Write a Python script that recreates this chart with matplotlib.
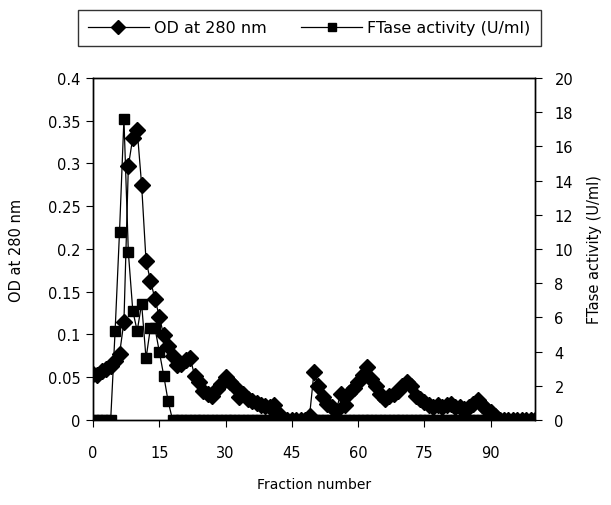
import numpy as np
import matplotlib.pyplot as plt

# fraction numbers 0..100
fractions = list(range(0, 101))

od_280 = [
    0.054, 0.053, 0.057, 0.060, 0.063, 0.069, 0.077, 0.115, 0.297, 0.330,
    0.339, 0.275, 0.186, 0.163, 0.142, 0.121, 0.099, 0.087, 0.075, 0.064,
    0.066, 0.070, 0.072, 0.052, 0.045, 0.034, 0.030, 0.028, 0.036, 0.042,
    0.050, 0.045, 0.040, 0.027, 0.030, 0.025, 0.022, 0.020, 0.017, 0.016,
    0.015, 0.017, 0.007, 0.000, 0.000, 0.000, 0.000, 0.000, 0.000, 0.005,
    0.056, 0.040, 0.027, 0.019, 0.015, 0.011, 0.030, 0.017, 0.032, 0.038,
    0.044, 0.053, 0.062, 0.048, 0.040, 0.030, 0.025, 0.028, 0.030, 0.034,
    0.040, 0.044, 0.040, 0.028, 0.025, 0.021, 0.017, 0.015, 0.017, 0.015,
    0.017, 0.019, 0.015, 0.015, 0.013, 0.015, 0.019, 0.023, 0.017, 0.013,
    0.009, 0.005, 0.000, 0.000, 0.000, 0.000, 0.000, 0.000, 0.000, 0.000,
    0.000,
]

ftase = [
    0.0, 0.0, 0.0, 0.0, 0.0, 5.2, 11.0, 17.6, 9.8, 6.4,
    5.2, 6.8, 3.6, 5.4, 5.4, 4.0, 2.6, 1.1, 0.0, 0.0,
    0.0, 0.0, 0.0, 0.0, 0.0, 0.0, 0.0, 0.0, 0.0, 0.0,
    0.0, 0.0, 0.0, 0.0, 0.0, 0.0, 0.0, 0.0, 0.0, 0.0,
    0.0, 0.0, 0.0, 0.0, 0.0, 0.0, 0.0, 0.0, 0.0, 0.0,
    0.0, 0.0, 0.0, 0.0, 0.0, 0.0, 0.0, 0.0, 0.0, 0.0,
    0.0, 0.0, 0.0, 0.0, 0.0, 0.0, 0.0, 0.0, 0.0, 0.0,
    0.0, 0.0, 0.0, 0.0, 0.0, 0.0, 0.0, 0.0, 0.0, 0.0,
    0.0, 0.0, 0.0, 0.0, 0.0, 0.0, 0.0, 0.0, 0.0, 0.0,
    0.0, 0.0, 0.0, 0.0, 0.0, 0.0, 0.0, 0.0, 0.0, 0.0,
    0.0,
]

x_ticks = [0, 15, 30, 45, 60, 75, 90]
od_ticks = [0, 0.05, 0.1, 0.15, 0.2, 0.25, 0.3, 0.35, 0.4]
od_labels = ['0', '0.05', '0.1', '0.15', '0.2', '0.25', '0.3', '0.35', '0.4']
ft_ticks = [0, 2, 4, 6, 8, 10, 12, 14, 16, 18, 20]

plt.rcParams['font.family'] = ['DejaVu Sans']
fs = 10.5

fig = plt.figure(figsize=(6.11, 5.06), dpi=100)
ax = fig.add_axes([0.1522, 0.168, 0.7234, 0.6759])
ax2 = ax.twinx()

l1, = ax.plot(fractions, od_280, color='black', lw=0.9, marker='D', ms=8,
              label='OD at 280 nm')
l2, = ax2.plot(fractions, ftase, color='black', lw=0.9, marker='s', ms=6.5,
               label='FTase activity (U/ml)')

ax.set_xlim(0, 100)
ax.set_ylim(0, 0.4)
ax2.set_ylim(0, 20)
ax.set_xticks(x_ticks)
ax.set_yticks(od_ticks)
ax.set_yticklabels(od_labels)
ax2.set_yticks(ft_ticks)

ax.tick_params(axis='x', direction='out', length=5, width=0.8, pad=13, labelsize=fs)
ax.tick_params(axis='y', direction='out', length=5, width=0.8, pad=4, labelsize=fs)
ax2.tick_params(axis='y', direction='out', length=5, width=0.8, pad=9, labelsize=fs)

for a in (ax, ax2):
    for s in a.spines.values():
        s.set_linewidth(1.0)

ax.set_xlabel('Fraction number', fontsize=10, labelpad=12)
ax.set_ylabel('OD at 280 nm', fontsize=10.5, labelpad=17)
ax2.set_ylabel('FTase activity (U/ml)', fontsize=10.5, labelpad=10)

leg = fig.legend(handles=[l1, l2], loc='center', bbox_to_anchor=(0.506, 0.943),
                 ncol=2, fontsize=11.5, frameon=True, fancybox=False,
                 edgecolor='black', handlelength=3.8, numpoints=1,
                 columnspacing=2.2, handletextpad=0.3, borderpad=0.65,
                 markerscale=0.85)
leg.get_frame().set_linewidth(1.0)

fig.savefig('out.png', dpi=100)
